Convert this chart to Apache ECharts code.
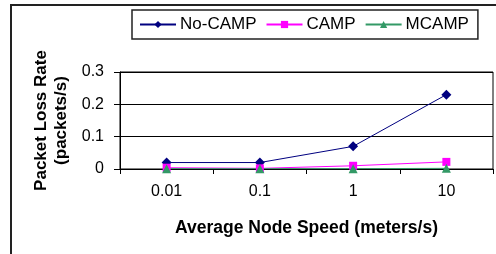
<!DOCTYPE html>
<html>
<head>
<meta charset="utf-8">
<script src="https://cdn.jsdelivr.net/npm/echarts@6/dist/echarts.min.js"></script>
<style>
  html, body { margin: 0; padding: 0; background: #fff; }
  #chart { width: 496px; height: 254px; }
</style>
</head>
<body>
<div id="chart"></div>
<script>
// categories along the x axis (node speed, meters/s)
const speeds = ['0.01', '0.1', '1', '10'];
// packet loss rate per series (packets/s)
const noCamp = [0.02, 0.02, 0.07, 0.23];
const camp = [0.004, 0.002, 0.01, 0.022];
const mcamp = [0.001, 0.001, 0.001, 0.002];
const yTicks = { min: 0, max: 0.3, step: 0.1 };

const font = 'Liberation Sans, Arial, sans-serif';
const chart = echarts.init(document.getElementById('chart'), null, { renderer: 'canvas' });

const mkSeries = (name, data, color, symbol, size) => ({
    name, type: 'line', data,
    symbol, symbolSize: size,
    lineStyle: { color, width: 1 },
    itemStyle: { color },
    emphasis: { disabled: true },
    animation: false,
});

chart.setOption({
    backgroundColor: '#fff',
    textStyle: { fontFamily: font, color: '#000' },
    graphic: [{
        type: 'rect',
        shape: { x: 11, y: 5, width: 600, height: 400 },
        style: { fill: 'none', stroke: '#222', lineWidth: 2 },
        silent: true,
    }],
    legend: {
        left: 132, top: 10,
        padding: [6, 9, 6, 7],
        itemGap: 9,
        itemWidth: 36, itemHeight: 9,
        borderColor: '#222', borderWidth: 1.5,
        textStyle: { fontSize: 17, fontFamily: font, color: '#000', padding: [0, 0, 0, -1] },
        data: ['No-CAMP', 'CAMP', 'MCAMP'],
    },
    grid: {
        left: 120, right: 3, top: 72, bottom: 85,
        show: true, borderColor: '#000', borderWidth: 1,
    },
    xAxis: {
        type: 'category', data: speeds, boundaryGap: true,
        axisLine: { lineStyle: { color: '#000', width: 1 } },
        axisTick: { show: true, length: 5, inside: false, lineStyle: { color: '#000' } },
        axisLabel: { fontSize: 16, color: '#000', margin: 15, fontFamily: font },
        name: 'Average Node Speed (meters/s)',
        nameLocation: 'middle', nameGap: 50,
        nameTextStyle: { fontSize: 17.5, fontWeight: 'bold', color: '#000', fontFamily: font },
    },
    yAxis: {
        type: 'value', min: yTicks.min, max: yTicks.max, interval: yTicks.step,
        axisLine: { show: true, lineStyle: { color: '#000', width: 1 } },
        axisTick: { show: true, length: 6, lineStyle: { color: '#000' } },
        axisLabel: { fontSize: 16, color: '#000', margin: 16, fontFamily: font },
        splitLine: { show: true, lineStyle: { color: '#000', width: 1 } },
        name: 'Packet Loss Rate\n(packets/s)',
        nameLocation: 'middle', nameRotate: 90, nameGap: 49,
        nameTextStyle: { fontSize: 17, fontWeight: 'bold', color: '#000', lineHeight: 20, fontFamily: font },
    },
    series: [
        mkSeries('No-CAMP', noCamp, '#000080', 'diamond', 10),
        mkSeries('CAMP', camp, '#ff00ff', 'rect', 8),
        mkSeries('MCAMP', mcamp, '#339966', 'triangle', 9),
    ],
    animation: false,
});
</script>
</body>
</html>
